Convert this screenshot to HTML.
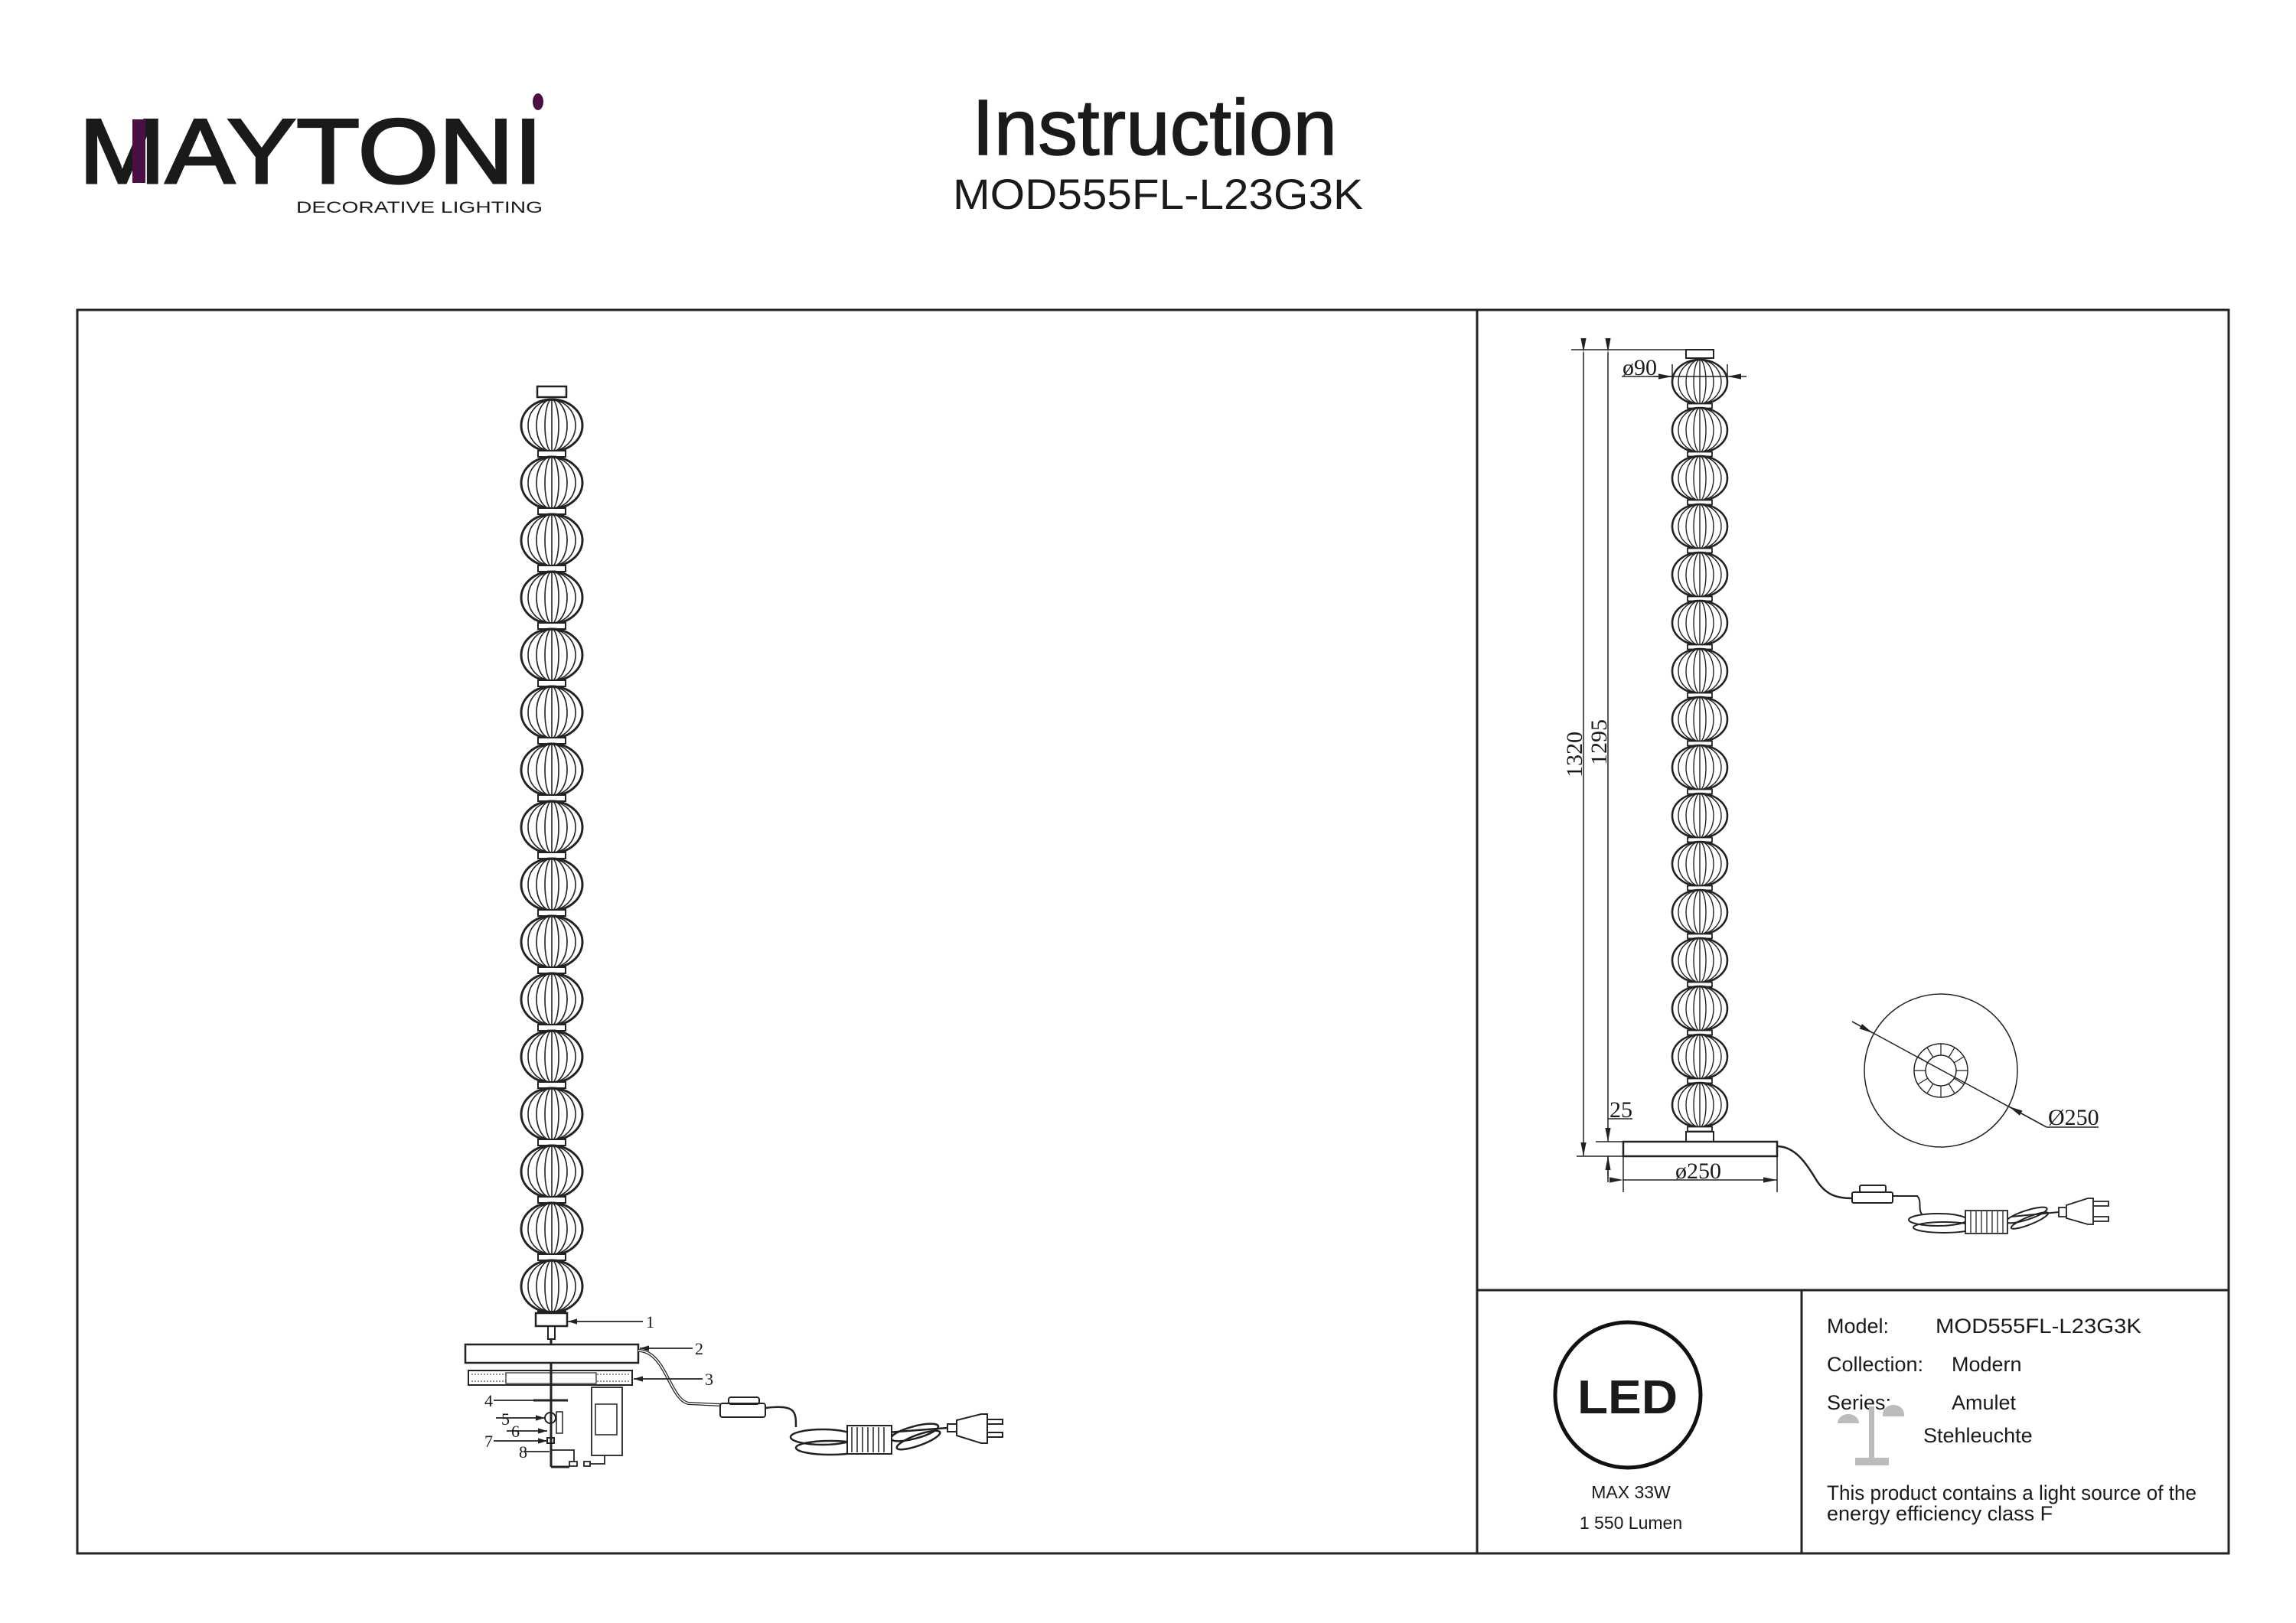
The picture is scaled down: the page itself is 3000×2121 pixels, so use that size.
<!DOCTYPE html>
<html><head><meta charset="utf-8"><style>
html,body{margin:0;padding:0;background:#fff}
svg{display:block}
text{font-family:"Liberation Sans",sans-serif;fill:#1a1a1a}
.s{font-family:"Liberation Serif",serif}
</style></head><body>
<svg width="3000" height="2121" viewBox="0 0 3000 2121" xmlns="http://www.w3.org/2000/svg">
<defs>
<g id="bl" fill="none" stroke="#222">
<ellipse cx="0" cy="0" rx="40" ry="34" stroke-width="3"/>
<ellipse cx="0" cy="0" rx="31" ry="33" stroke-width="1.6"/>
<ellipse cx="0" cy="0" rx="20" ry="34" stroke-width="1.6"/>
<ellipse cx="0" cy="0" rx="9" ry="34" stroke-width="1.6"/>
<line x1="0" y1="-34" x2="0" y2="34" stroke-width="1.6"/>
<rect x="-18" y="33" width="36" height="8" stroke-width="2" fill="#fff"/>
</g>
<g id="br" fill="none" stroke="#222">
<ellipse cx="0" cy="0" rx="36" ry="29" stroke-width="2.6"/>
<ellipse cx="0" cy="0" rx="28" ry="28.5" stroke-width="1.4"/>
<ellipse cx="0" cy="0" rx="18" ry="29" stroke-width="1.4"/>
<ellipse cx="0" cy="0" rx="8" ry="29" stroke-width="1.4"/>
<line x1="0" y1="-29" x2="0" y2="29" stroke-width="1.4"/>
<rect x="-16" y="28.5" width="32" height="6" stroke-width="1.8" fill="#fff"/>
</g>
<marker id="ah" viewBox="0 0 10 10" refX="10" refY="5" markerWidth="12" markerHeight="12" markerUnits="userSpaceOnUse" orient="auto"><path d="M0,2 L10,5 L0,8 Z" fill="#222"/></marker>
<marker id="ah2" viewBox="0 0 10 10" refX="10" refY="5" markerWidth="18" markerHeight="18" markerUnits="userSpaceOnUse" orient="auto"><path d="M0,3 L10,5 L0,7 Z" fill="#222"/></marker>
</defs>

<!-- header -->
<text x="103" y="239" font-size="120" stroke="#1a1a1a" stroke-width="3" textLength="606" lengthAdjust="spacingAndGlyphs">MAYTONI</text>
<rect x="173" y="156" width="17" height="83" fill="#4a0f44"/>
<ellipse cx="703" cy="133" rx="7" ry="11" fill="#4a0f44"/>
<text x="387" y="278" font-size="21" textLength="322" lengthAdjust="spacingAndGlyphs">DECORATIVE LIGHTING</text>
<text x="1270" y="202" font-size="103" textLength="477" lengthAdjust="spacingAndGlyphs" stroke="#1a1a1a" stroke-width="1.5">Instruction</text>
<text x="1245" y="273" font-size="56" textLength="536" lengthAdjust="spacingAndGlyphs">MOD555FL-L23G3K</text>

<!-- frame -->
<g fill="none" stroke="#222" stroke-width="3">
<rect x="101" y="405" width="2811" height="1625"/>
<line x1="1930" y1="405" x2="1930" y2="2030"/>
<line x1="1930" y1="1686" x2="2912" y2="1686"/>
<line x1="2354" y1="1686" x2="2354" y2="2030"/>
</g>

<!-- left lamp -->
<rect x="702" y="505" width="38" height="14" fill="#fff" stroke="#222" stroke-width="2.5"/>
<use href="#bl" x="721" y="556"/><use href="#bl" x="721" y="631"/><use href="#bl" x="721" y="706"/><use href="#bl" x="721" y="781"/>
<use href="#bl" x="721" y="856"/><use href="#bl" x="721" y="931"/><use href="#bl" x="721" y="1006"/><use href="#bl" x="721" y="1081"/>
<use href="#bl" x="721" y="1156"/><use href="#bl" x="721" y="1231"/><use href="#bl" x="721" y="1306"/><use href="#bl" x="721" y="1381"/>
<use href="#bl" x="721" y="1456"/><use href="#bl" x="721" y="1531"/><use href="#bl" x="721" y="1606"/><use href="#bl" x="721" y="1681"/>
<g fill="none" stroke="#222" stroke-width="2">
<rect x="700" y="1716" width="41" height="17" fill="#fff" stroke-width="2.5"/>
<rect x="716" y="1733" width="9" height="17"/>
<line x1="720" y1="1750" x2="720" y2="1757" stroke-width="3"/>
<rect x="608" y="1757" width="226" height="24" stroke-width="2.5"/>
<rect x="612" y="1791" width="214" height="19"/>
<path d="M616,1796 H822 M616,1805 H822" stroke-width="1" stroke-dasharray="2,2"/>
<rect x="661" y="1794" width="118" height="14" fill="#fff" stroke-width="1.2"/>
<line x1="720" y1="1781" x2="720" y2="1917" stroke-width="3"/>
<rect x="773" y="1813" width="40" height="89" stroke-width="1.8"/>
<rect x="778" y="1835" width="28" height="40" stroke-width="1.5"/>
<path d="M697,1830 H742" stroke-width="3"/>
<circle cx="719" cy="1853" r="7"/>
<rect x="727" y="1845" width="8" height="28" stroke-width="1.5"/>
<rect x="715" y="1879" width="9" height="7"/>
<path d="M720,1895 H750 V1910 M744,1910 h10 v6 h-10z M763,1910 h8 v6 h-8z M771,1913 H790 V1902" stroke-width="1.8"/>
<path d="M720,1917 H744" stroke-width="3"/>
<path d="M834,1765 C870,1765 875,1830 900,1834 L941,1836" stroke-width="4"/>
<path d="M834,1765 C870,1765 875,1830 900,1834 L941,1836" stroke="#fff" stroke-width="1.5"/>
<rect x="941" y="1834" width="59" height="18" rx="3"/>
<rect x="952" y="1826" width="40" height="9" rx="3"/>
<path d="M1000,1840 C1040,1835 1040,1845 1040,1865" stroke-width="2.5"/>
<ellipse cx="1075" cy="1878" rx="42" ry="10" stroke-width="2.5"/>
<ellipse cx="1085" cy="1892" rx="45" ry="9" stroke-width="2.5"/>
<ellipse cx="1195" cy="1872" rx="32" ry="8" stroke-width="2.5" transform="rotate(-15 1195 1872)"/>
<ellipse cx="1200" cy="1882" rx="30" ry="7" stroke-width="2.5" transform="rotate(-20 1200 1882)"/>
<path d="M1160,1872 L1238,1866" stroke-width="2.5"/>
<path d="M1107,1863 h58 v37 h-58z" fill="#fff" stroke-width="2"/>
<path d="M1113,1865 v33 M1120,1865 v33 M1127,1865 v33 M1134,1865 v33 M1141,1865 v33 M1148,1865 v33 M1155,1865 v33" stroke-width="1.5"/>
<path d="M1238,1861 h12 v10 h-12z M1250,1856 L1282,1848 H1290 V1886 H1282 L1250,1876 Z M1290,1855 h20 v6 h-20z M1290,1872 h20 v6 h-20z" stroke-width="2"/>
</g>
<!-- labels left -->
<g stroke="#222" stroke-width="1.8" fill="none">
<line x1="840" y1="1727" x2="742" y2="1727" marker-end="url(#ah)"/>
<line x1="905" y1="1762" x2="836" y2="1762" marker-end="url(#ah)"/>
<line x1="918" y1="1802" x2="828" y2="1802" marker-end="url(#ah)"/>
<line x1="645" y1="1830" x2="697" y2="1830"/>
<line x1="648" y1="1853" x2="712" y2="1853" marker-end="url(#ah)"/>
<line x1="662" y1="1870" x2="715" y2="1870" marker-end="url(#ah)"/>
<line x1="645" y1="1883" x2="715" y2="1883" marker-end="url(#ah)"/>
<line x1="685" y1="1897" x2="718" y2="1897"/>
</g>
<g class="s" font-size="22">
<text class="s" x="844" y="1735">1</text><text class="s" x="908" y="1770">2</text><text class="s" x="921" y="1810">3</text>
<text class="s" x="633" y="1838">4</text><text class="s" x="655" y="1862">5</text><text class="s" x="668" y="1878">6</text>
<text class="s" x="633" y="1891">7</text><text class="s" x="678" y="1905">8</text>
</g>

<!-- right lamp -->
<rect x="2203" y="457" width="36" height="11" fill="#fff" stroke="#222" stroke-width="2"/>
<use href="#br" x="2221" y="499"/><use href="#br" x="2221" y="562"/><use href="#br" x="2221" y="625"/><use href="#br" x="2221" y="688"/>
<use href="#br" x="2221" y="751"/><use href="#br" x="2221" y="814"/><use href="#br" x="2221" y="877"/><use href="#br" x="2221" y="940"/>
<use href="#br" x="2221" y="1003"/><use href="#br" x="2221" y="1066"/><use href="#br" x="2221" y="1129"/><use href="#br" x="2221" y="1192"/>
<use href="#br" x="2221" y="1255"/><use href="#br" x="2221" y="1318"/><use href="#br" x="2221" y="1381"/><use href="#br" x="2221" y="1444"/>
<g fill="none" stroke="#222" stroke-width="2">
<rect x="2203" y="1479" width="36" height="13" fill="#fff"/>
<rect x="2121" y="1492" width="201" height="19" stroke-width="2.5"/>
<g stroke-width="1.5">
<line x1="2053" y1="457" x2="2239" y2="457"/>
<line x1="2069" y1="460" x2="2069" y2="1511" marker-start="url(#ah2)" marker-end="url(#ah2)"/>
<line x1="2101" y1="460" x2="2101" y2="1492" marker-start="url(#ah2)" marker-end="url(#ah2)"/>
<line x1="2101" y1="1511" x2="2101" y2="1545"/>
<line x1="2101" y1="1540" x2="2101" y2="1511" marker-end="url(#ah2)"/>
<line x1="2085" y1="1492" x2="2121" y2="1492"/>
<line x1="2060" y1="1511" x2="2121" y2="1511"/>
<line x1="2121" y1="1511" x2="2121" y2="1558"/><line x1="2322" y1="1511" x2="2322" y2="1558"/>
<line x1="2121" y1="1542" x2="2322" y2="1542" marker-start="url(#ah2)" marker-end="url(#ah2)"/>
<line x1="2119" y1="492" x2="2257" y2="492"/>
<line x1="2160" y1="492" x2="2185" y2="492" marker-end="url(#ah2)"/>
<line x1="2282" y1="492" x2="2257" y2="492" marker-end="url(#ah2)"/>
<line x1="2185" y1="476" x2="2185" y2="500"/><line x1="2257" y1="476" x2="2257" y2="500"/>
<line x1="2101" y1="1462" x2="2133" y2="1462"/>
</g>
<circle cx="2536" cy="1399" r="100" stroke-width="1.5"/>
<circle cx="2536" cy="1399" r="35" stroke-width="1.5"/>
<circle cx="2536" cy="1399" r="20" stroke-width="1.5"/>
<path d="M2571,1399 h-15 M2566,1417 l-13,-8 M2554,1429 l-8,-13 M2536,1434 v-15 M2518,1429 l8,-13 M2506,1417 l13,-8 M2501,1399 h15 M2506,1381 l13,8 M2518,1369 l8,13 M2536,1364 v15 M2554,1369 l-8,13 M2566,1381 l-13,8" stroke-width="1.2"/>
<line x1="2420" y1="1335" x2="2674" y2="1473" stroke-width="1.5"/>
<line x1="2420" y1="1335" x2="2447" y2="1350" stroke-width="1.5" marker-end="url(#ah2)"/>
<line x1="2674" y1="1473" x2="2625" y2="1446" stroke-width="1.5" marker-end="url(#ah2)"/>
<line x1="2674" y1="1473" x2="2742" y2="1473" stroke-width="1.5"/>
<path d="M2322,1498 C2345,1498 2360,1520 2372,1540 C2385,1562 2400,1566 2420,1566" stroke-width="2.5"/>
<rect x="2420" y="1558" width="53" height="14" rx="2"/>
<rect x="2430" y="1549" width="34" height="9" rx="2"/>
<path d="M2473,1563 L2505,1563 C2512,1570 2505,1580 2512,1588" stroke-width="2"/>
<ellipse cx="2532" cy="1594" rx="38" ry="8" stroke-width="2"/>
<ellipse cx="2540" cy="1604" rx="40" ry="7" stroke-width="2"/>
<ellipse cx="2648" cy="1588" rx="28" ry="6" stroke-width="2" transform="rotate(-18 2648 1588)"/>
<ellipse cx="2652" cy="1595" rx="26" ry="5" stroke-width="2" transform="rotate(-22 2652 1595)"/>
<path d="M2628,1590 L2690,1584" stroke-width="2"/>
<path d="M2568,1582 h55 v30 h-55z" fill="#fff" stroke-width="1.8"/>
<path d="M2575,1583 v28 M2582,1583 v28 M2589,1583 v28 M2596,1583 v28 M2603,1583 v28 M2610,1583 v28 M2617,1583 v28" stroke-width="1.3"/>
<path d="M2690,1578 h10 v12 h-10z M2700,1575 L2728,1566 H2735 V1600 H2728 L2700,1592 Z M2735,1570 h20 v6 h-20z M2735,1590 h20 v6 h-20z" stroke-width="1.8"/>
</g>
<g class="s">
<text class="s" x="2120" y="490" font-size="30">ø90</text>
<text class="s" x="2103" y="1460" font-size="30">25</text>
<text class="s" x="2189" y="1540" font-size="30">ø250</text>
<text class="s" x="2676" y="1470" font-size="30">Ø250</text>
<text class="s" transform="translate(2067,1016) rotate(-90)" font-size="30">1320</text>
<text class="s" transform="translate(2099,1000) rotate(-90)" font-size="30">1295</text>
</g>

<circle cx="2127" cy="1823" r="95" fill="none" stroke="#111" stroke-width="5"/>
<text x="2061" y="1847" font-size="62" font-weight="bold" textLength="131" lengthAdjust="spacingAndGlyphs" fill="#111">LED</text>
<text x="2131" y="1958" font-size="23" text-anchor="middle">MAX 33W</text>
<text x="2131" y="1998" font-size="23" text-anchor="middle">1 550 Lumen</text>
<g font-size="27">
<text x="2387" y="1742">Model:</text>
<text x="2529" y="1742" textLength="269" lengthAdjust="spacingAndGlyphs">MOD555FL-L23G3K</text>
<text x="2387" y="1792">Collection:</text>
<text x="2550" y="1792">Modern</text>
<text x="2387" y="1842">Series:</text>
<text x="2550" y="1842">Amulet</text>
<text x="2513" y="1885">Stehleuchte</text>
<text x="2387" y="1960" textLength="483" lengthAdjust="spacingAndGlyphs">This product contains a light source of the</text>
<text x="2387" y="1987">energy efficiency class F</text>
</g>
<g fill="#bcbcbc">
<rect x="2442" y="1838" width="7" height="70"/>
<rect x="2424" y="1905" width="44" height="10"/>
<path d="M2401,1860 a14,12 0 0 1 28,0 z"/>
<path d="M2460,1848 a14,12 0 0 1 28,0 v3 h-28 z"/>
</g>
</svg>
</body></html>
